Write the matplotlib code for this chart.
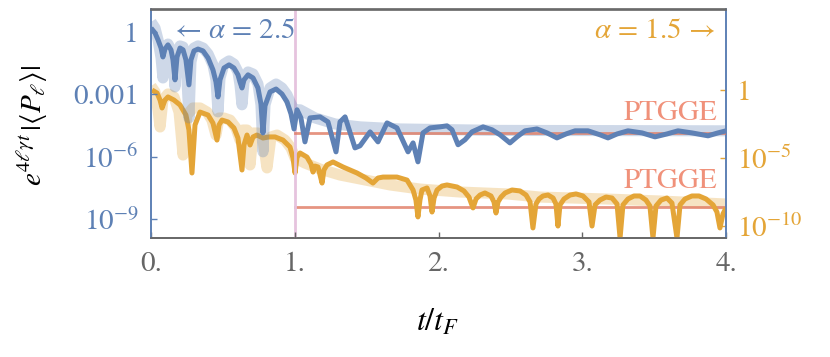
import numpy as np
import matplotlib
matplotlib.use("Agg")
import matplotlib.pyplot as plt
from matplotlib.ticker import FixedLocator, FixedFormatter

plt.rcParams['mathtext.fontset'] = 'stix'
plt.rcParams['font.family'] = ['STIXGeneral', 'DejaVu Serif']

# ---------------- data (log10 values) ----------------
# alpha = 2.5 (left axis), exact curve
t_blue = [0.000, 0.028, 0.049, 0.070, 0.083, 0.097, 0.118, 0.139, 0.153, 0.167,
          0.181, 0.202, 0.223, 0.243, 0.264, 0.278, 0.299, 0.327, 0.362, 0.397,
          0.431, 0.452, 0.466, 0.480, 0.508, 0.543, 0.577, 0.605, 0.619, 0.633,
          0.647, 0.675, 0.710, 0.744, 0.765, 0.779, 0.793, 0.828, 0.870, 0.911,
          0.946, 0.974, 0.995, 1.016, 1.043, 1.071, 1.106, 1.176, 1.231, 1.287,
          1.315, 1.350, 1.419, 1.454, 1.524, 1.579, 1.642, 1.711, 1.788, 1.823,
          1.857, 1.892, 1.941, 2.010, 2.059, 2.094, 2.136, 2.184, 2.233, 2.310,
          2.372, 2.428, 2.497, 2.546, 2.602, 2.685, 2.755, 2.824, 2.887, 2.950,
          3.040, 3.123, 3.179, 3.242, 3.318, 3.416, 3.506, 3.589, 3.666, 3.763,
          3.875, 3.944, 4.000]
blue_log10 = [0.19, -0.05, -0.38, -0.77, -1.20, -0.82, -0.62, -0.86, -1.34, -2.30,
              -1.20, -0.77, -0.86, -1.34, -2.54, -1.34, -0.91, -0.82, -0.91, -1.25,
              -1.82, -2.40, -3.12, -2.30, -1.73, -1.58, -1.73, -2.06, -2.40, -2.69,
              -2.30, -2.06, -2.21, -2.69, -3.46, -4.85, -3.55, -2.88, -2.74, -2.98,
              -3.36, -3.94, -4.66, -3.74, -4.13, -5.28, -4.13, -4.08, -4.32, -5.76,
              -4.32, -4.08, -5.57, -5.47, -4.80, -5.28, -4.37, -4.61, -5.76, -5.33,
              -6.24, -4.85, -4.61, -4.56, -4.51, -4.70, -5.42, -5.18, -4.80, -4.56,
              -4.70, -4.94, -5.33, -5.04, -4.75, -4.66, -4.85, -5.09, -4.90, -4.75,
              -4.75, -4.94, -5.09, -4.90, -4.75, -4.85, -5.04, -4.90, -4.75, -4.85,
              -4.99, -4.85, -4.75]

# alpha = 2.5, light reference curve
t_blue_band = [0.000, 0.028, 0.049, 0.070, 0.083, 0.097, 0.118, 0.139, 0.153, 0.167,
               0.181, 0.202, 0.223, 0.243, 0.264, 0.278, 0.299, 0.327, 0.362, 0.397,
               0.431, 0.452, 0.466, 0.480, 0.508, 0.543, 0.577, 0.605, 0.619, 0.633,
               0.647, 0.675, 0.710, 0.744, 0.765, 0.779, 0.793, 0.828, 0.870, 0.911,
               0.946, 0.974, 0.995, 1.037, 1.141, 1.280, 1.454, 1.732, 2.428, 4.000]
blue_band_log10 = [0.48, 0.19, -0.38, -1.25, -2.21, -1.10, -0.58, -0.86, -1.44, -2.64,
                   -1.25, -0.67, -0.72, -1.34, -4.13, -1.44, -0.77, -0.67, -0.77, -1.06,
                   -1.58, -2.30, -3.84, -2.21, -1.54, -1.39, -1.54, -1.92, -2.54, -3.50,
                   -2.40, -1.92, -2.02, -2.50, -3.50, -5.76, -3.50, -2.69, -2.50, -2.69,
                   -3.02, -3.46, -3.74, -3.74, -4.13, -4.42, -4.56, -4.66, -4.73, -4.75]

# alpha = 1.5 (right axis), exact curve
t_orange = [0.007, 0.042, 0.063, 0.077, 0.097, 0.118, 0.160, 0.202, 0.243, 0.264,
            0.285, 0.306, 0.341, 0.397, 0.431, 0.459, 0.473, 0.494, 0.536, 0.577,
            0.605, 0.633, 0.647, 0.668, 0.689, 0.710, 0.737, 0.779, 0.821, 0.863,
            0.918, 0.967, 0.988, 1.002, 1.016, 1.037, 1.085, 1.113, 1.127, 1.141,
            1.162, 1.176, 1.190, 1.203, 1.224, 1.266, 1.336, 1.433, 1.496, 1.544,
            1.579, 1.614, 1.711, 1.781, 1.823, 1.843, 1.857, 1.871, 1.885, 1.920,
            1.941, 1.955, 1.969, 1.990, 2.024, 2.059, 2.129, 2.177, 2.212, 2.240,
            2.261, 2.289, 2.323, 2.365, 2.386, 2.400, 2.414, 2.435, 2.463, 2.511,
            2.567, 2.609, 2.637, 2.657, 2.678, 2.699, 2.727, 2.762, 2.797, 2.817,
            2.831, 2.845, 2.873, 2.915, 2.957, 3.005, 3.047, 3.068, 3.089, 3.123,
            3.165, 3.207, 3.242, 3.263, 3.283, 3.318, 3.360, 3.402, 3.443, 3.471,
            3.492, 3.513, 3.548, 3.589, 3.624, 3.659, 3.680, 3.715, 3.763, 3.812,
            3.861, 3.910, 3.937, 3.958, 3.979, 4.000]
orange_log10 = [0.00, -0.22, -0.74, -1.32, -0.74, -0.51, -0.74, -1.10, -1.84, -2.94,
                -6.10, -2.57, -1.62, -1.84, -2.43, -3.68, -2.57, -2.21, -2.35, -2.79,
                -3.53, -5.88, -4.04, -3.31, -4.04, -3.45, -3.31, -3.53, -3.45, -3.45,
                -3.68, -4.19, -5.00, -6.10, -4.93, -4.63, -4.93, -5.44, -6.03, -5.59,
                -5.66, -6.25, -6.84, -5.88, -5.51, -5.29, -5.66, -6.10, -6.47, -6.84,
                -6.47, -6.40, -6.40, -6.62, -7.35, -8.09, -9.33, -8.09, -7.35, -7.20,
                -7.79, -8.97, -7.94, -7.35, -7.06, -6.98, -7.13, -7.42, -7.87, -8.67,
                -8.01, -7.72, -7.57, -7.79, -8.23, -9.04, -8.23, -7.87, -7.57, -7.35,
                -7.42, -7.72, -8.23, -10.14, -8.38, -8.01, -7.79, -7.72, -7.94, -8.38,
                -10.00, -8.45, -8.01, -7.72, -7.64, -7.79, -8.23, -10.00, -8.45, -8.09,
                -7.87, -7.94, -8.38, -10.88, -8.45, -8.01, -7.79, -7.79, -8.09, -8.53,
                -10.88, -8.53, -8.09, -7.94, -8.31, -10.88, -8.45, -8.01, -7.79, -7.79,
                -8.01, -8.45, -8.97, -10.14, -9.11, -8.67]

# alpha = 1.5, light reference curve
t_orange_band = [0.000, 0.028, 0.049, 0.063, 0.083, 0.118, 0.160, 0.195, 0.223, 0.250,
                 0.292, 0.341, 0.390, 0.424, 0.452, 0.473, 0.508, 0.550, 0.591, 0.619,
                 0.640, 0.668, 0.689, 0.710, 0.744, 0.779, 0.807, 0.835, 0.877, 0.932,
                 0.974, 1.002, 1.071, 1.176, 1.315, 1.454, 1.663, 1.871, 2.150, 2.477,
                 2.706, 3.158, 3.541, 4.000]
orange_band_log10 = [0.29, -0.15, -1.47, -2.72, -0.74, -0.29, -0.51, -1.62, -4.78, -1.84,
                     -1.32, -1.32, -1.62, -2.21, -3.31, -2.06, -2.06, -2.21, -2.79, -3.68,
                     -2.94, -2.94, -5.51, -3.16, -3.16, -3.68, -5.73, -3.45, -3.31, -3.68,
                     -4.26, -5.00, -5.37, -5.81, -6.25, -6.54, -6.98, -7.28, -7.50, -7.64,
                     -7.87, -8.01, -8.16, -8.38]

# PTGGE plateau values (log10) and quench time
ptgge_blue_log10 = -4.85
ptgge_orange_log10 = -8.62
t_quench = 1.0
t_end = 4.0

x_ticks = [0, 1, 2, 3, 4]
x_ticklabels = ['0.', '1.', '2.', '3.', '4.']
left_ticks = [1, 1e-3, 1e-6, 1e-9]
left_ticklabels = ['1', '0.001', r'$10^{-6}$', r'$10^{-9}$']
right_ticks = [1, 1e-5, 1e-10]
right_ticklabels = ['1', r'$10^{-5}$', r'$10^{-10}$']

# ---------------- style ----------------
BLUE = '#5E81B5'
ORANGE = '#E4A537'
RED = '#E07A62'
SALMON = '#F0917A'
PINK = '#E6C3DE'
GRAY = '#666666'
FS = 21

fig = plt.figure(figsize=(8.30, 3.57), dpi=100)
ax = fig.add_axes([151/830, 1-238/357, (726-151)/830, (238-9.5)/357])
ax2 = ax.twinx()

ax.set_xlim(0, 4)
ax.set_yscale('log')
ax2.set_yscale('log')
ax.set_ylim(10**-9.9, 10**1.08)
ax2.set_ylim(10**-10.88, 10**5.92)

# vertical quench line
ax.axvline(t_quench, color=PINK, lw=2.0, zorder=1)

# blue series (left)
ax.plot(t_blue_band, 10**np.array(blue_band_log10), color=BLUE, alpha=0.3,
        lw=8, solid_joinstyle='round', solid_capstyle='butt', zorder=2)
ax.plot([t_quench, t_end], [10**ptgge_blue_log10]*2, color=RED, lw=2.0, alpha=0.8, zorder=3)
ax.plot(t_blue, 10**np.array(blue_log10), color=BLUE, lw=3.6, zorder=5,
        solid_joinstyle='round', solid_capstyle='butt')

# orange series (right)
ax2.plot(t_orange_band, 10**np.array(orange_band_log10), color=ORANGE, alpha=0.3,
         lw=8, solid_joinstyle='round', solid_capstyle='butt', zorder=2)
ax2.plot([t_quench, t_end], [10**ptgge_orange_log10]*2, color=RED, lw=2.0, alpha=0.8, zorder=3)
ax2.plot(t_orange, 10**np.array(orange_log10), color=ORANGE, lw=3.6, zorder=4,
         solid_joinstyle='round', solid_capstyle='butt')

ax.set_zorder(2)
ax.patch.set_visible(False)
ax2.set_zorder(1)

# ticks
ax.xaxis.set_major_locator(FixedLocator(x_ticks))
ax.xaxis.set_major_formatter(FixedFormatter(x_ticklabels))
ax.yaxis.set_major_locator(FixedLocator(left_ticks))
ax.yaxis.set_major_formatter(FixedFormatter(left_ticklabels))
ax.yaxis.set_minor_locator(FixedLocator([]))
ax2.yaxis.set_major_locator(FixedLocator(right_ticks))
ax2.yaxis.set_major_formatter(FixedFormatter(right_ticklabels))
ax2.yaxis.set_minor_locator(FixedLocator([]))

ax.tick_params(axis='x', direction='in', length=4, width=1, color=GRAY,
               labelcolor=GRAY, labelsize=FS, pad=10, top=False)
ax.tick_params(axis='y', direction='in', length=4, width=1, color=BLUE,
               labelcolor=BLUE, labelsize=FS, pad=9, right=False)
ax2.tick_params(axis='y', direction='in', length=4, width=1, color=ORANGE,
                labelcolor=ORANGE, labelsize=FS, pad=8)

for a in (ax, ax2):
    a.spines['top'].set_color(GRAY)
    a.spines['bottom'].set_color(GRAY)
    a.spines['left'].set_color(BLUE)
    a.spines['right'].set_color(BLUE)
    for s in a.spines.values():
        s.set_linewidth(1.2)

# texts
ax.text(0.040, 0.905, '\u2190 $\\alpha$ = 2.5', transform=ax.transAxes,
        color=BLUE, fontsize=FS, ha='left', va='center')
ax.text(0.982, 0.905, '$\\alpha$ = 1.5 \u2192', transform=ax.transAxes,
        color=ORANGE, fontsize=FS, ha='right', va='center')
ax.text(0.985, (238-113)/228.5, 'PTGGE', transform=ax.transAxes,
        color=SALMON, fontsize=FS, ha='right', va='center')
ax.text(0.985, (238-181)/228.5, 'PTGGE', transform=ax.transAxes,
        color=SALMON, fontsize=FS, ha='right', va='center')

fig.text(33/830, 1-125/357, r'$e^{4\ell\gamma t}\,|\langle P_\ell\rangle|$',
         rotation=90, fontsize=21, ha='center', va='center', color='black')
fig.text(438/830, 1-323/357, r'$t/t_F$', fontsize=23, ha='center', va='center',
         color='black')

fig.savefig('out.png', dpi=100)
